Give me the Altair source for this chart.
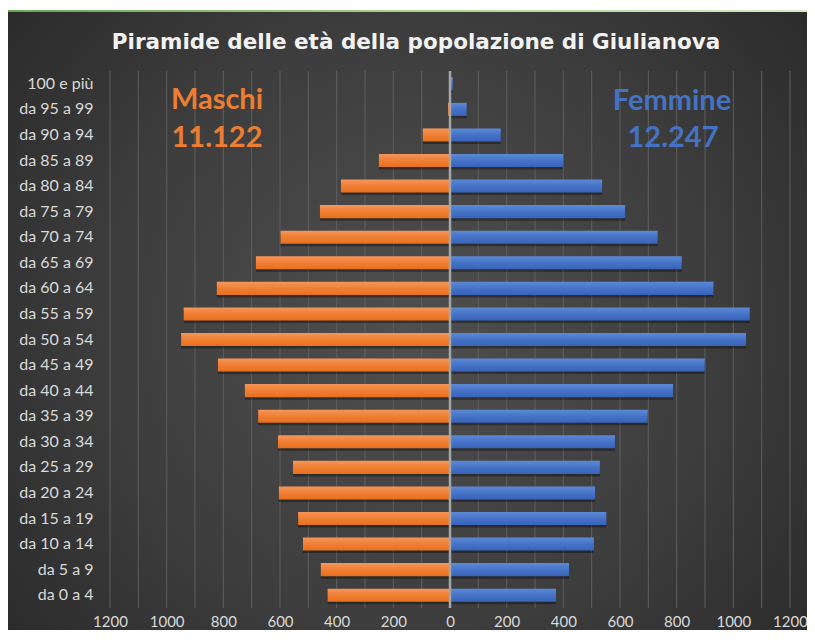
import altair as alt
import pandas as pd

eta = ["100 e più", "da 95 a 99", "da 90 a 94", "da 85 a 89", "da 80 a 84",
       "da 75 a 79", "da 70 a 74", "da 65 a 69", "da 60 a 64", "da 55 a 59",
       "da 50 a 54", "da 45 a 49", "da 40 a 44", "da 35 a 39", "da 30 a 34",
       "da 25 a 29", "da 20 a 24", "da 15 a 19", "da 10 a 14", "da 5 a 9", "da 0 a 4"]
maschi = [1, 7, 96, 251, 385, 459, 598, 685, 823, 940, 949, 819, 724, 677, 607,
          554, 604, 536, 519, 456, 432]
femmine = [10, 59, 179, 399, 537, 618, 733, 818, 930, 1058, 1045, 899, 787, 698, 582,
           529, 512, 552, 508, 420, 374]
titolo = "Piramide delle età della popolazione di Giulianova"
tot_m = "11.122"
tot_f = "12.247"
ticks_x = list(range(-1200, 1201, 100))

rows = []
for a, m, f in zip(eta, maschi, femmine):
    rows.append({"eta": a, "sesso": "Maschi", "valore": -m})
    rows.append({"eta": a, "sesso": "Femmine", "valore": f})
df = pd.DataFrame(rows)
grid_df = pd.DataFrame({"v": ticks_x})

FONT = "Lato"
W, H = 680, 537

xs = alt.Scale(domain=[-1200, 1200], nice=False)
ys = alt.Scale(paddingInner=0.49, paddingOuter=0.245)

one = alt.Data(values=[{}])

panel = alt.Chart(one).mark_rect(
    fill=alt.Gradient(
        gradient="radial",
        x1=0.5, y1=0.5, r1=0.0, x2=0.5, y2=0.5, r2=0.75,
        stops=[alt.GradientStop(color="#4f4f4f", offset=0),
               alt.GradientStop(color="#3d3d3d", offset=0.5),
               alt.GradientStop(color="#232323", offset=1)],
    ),
).encode(x=alt.value(-102), x2=alt.value(705), y=alt.value(-59), y2=alt.value(572))

greenline = alt.Chart(one).mark_rect(
    fill=alt.Gradient(
        gradient="linear", x1=0, y1=0, x2=1, y2=0,
        stops=[alt.GradientStop(color="#6aa84f", offset=0),
               alt.GradientStop(color="#a9d18e", offset=0.5),
               alt.GradientStop(color="#d6ebc6", offset=1)],
    ),
).encode(x=alt.value(-102), x2=alt.value(705), y=alt.value(-61), y2=alt.value(-59))

grid = alt.Chart(grid_df).mark_rule(color="#5e5e5e", strokeWidth=1).encode(
    x=alt.X("v:Q", scale=xs), y=alt.value(0), y2=alt.value(H))

base = alt.Chart(df).encode(
    y=alt.Y("eta:N", sort=eta, scale=ys, title=None,
            axis=alt.Axis(labelFont=FONT, labelFontSize=16, labelColor="#d9d9d9",
                          labelAlign="right", labelPadding=17, ticks=False,
                          domain=False, grid=False, zindex=1)),
)

xenc = alt.X("valore:Q", scale=xs, stack=None, title=None,
             axis=alt.Axis(values=ticks_x,
                           labelExpr="datum.value % 200 == 0 ? '' + abs(datum.value) : ''",
                           labelFont=FONT, labelFontSize=15, labelColor="#d9d9d9",
                           labelPadding=6, ticks=False, domain=False, labelFlush=False,
                           grid=False, labelOverlap=False, zindex=1))

shadow = base.mark_bar(color="#000000", opacity=0.35, yOffset=2.5).encode(x=xenc)

m_bars = base.transform_filter(alt.datum.sesso == "Maschi").mark_bar(
    fill=alt.Gradient(gradient="linear", x1=0, y1=0, x2=0, y2=1,
                      stops=[alt.GradientStop(color="#f6955a", offset=0),
                             alt.GradientStop(color="#ef7f33", offset=0.5),
                             alt.GradientStop(color="#e8701e", offset=1)])
).encode(x=xenc)

f_bars = base.transform_filter(alt.datum.sesso == "Femmine").mark_bar(
    fill=alt.Gradient(gradient="linear", x1=0, y1=0, x2=0, y2=1,
                      stops=[alt.GradientStop(color="#5b8ad8", offset=0),
                             alt.GradientStop(color="#4673c6", offset=0.5),
                             alt.GradientStop(color="#3763bb", offset=1)])
).encode(x=xenc)

zero = alt.Chart(one).mark_rule(color="#a6a6a6", strokeWidth=2.5).encode(
    x=alt.datum(0, scale=xs), y=alt.value(0), y2=alt.value(H))

def txt(t, x, y, size, color, font=FONT, weight="bold"):
    return alt.Chart(one).mark_text(
        text=t, font=font, fontSize=size, fontWeight=weight, color=color,
        align="center", baseline="middle",
    ).encode(x=alt.value(x), y=alt.value(y))

title = txt(titolo, 306, -28, 21.5, "#f2f2f2", font="DejaVu Sans")
mas1 = txt("Maschi", 107, 29, 29, "#ed7d31")
mas2 = txt(tot_m, 107, 67, 29, "#ed7d31")
fem1 = txt("Femmine", 562, 30, 29, "#4472c4")
fem2 = txt(tot_f, 563, 67, 29, "#4472c4")

chart = alt.layer(
    panel, greenline, grid, shadow, m_bars, f_bars, zero, title, mas1, mas2, fem1, fem2
).properties(
    width=W, height=H,
    autosize=alt.AutoSizeParams(type="none"),
    padding={"left": 102, "top": 63, "right": 17, "bottom": 22},
    background="white",
).configure_view(stroke=None)

chart.save("out.html", embed_options={"renderer": "svg", "actions": False})
